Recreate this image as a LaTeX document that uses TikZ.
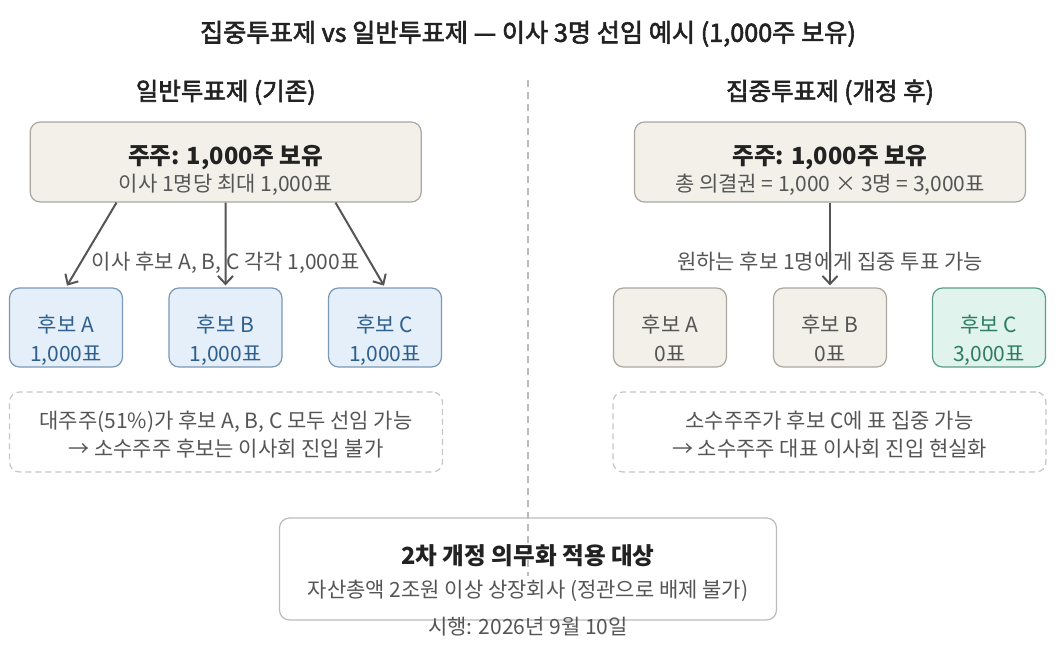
\documentclass[tikz,border=0pt]{standalone}
\usepackage{fontspec}
\setmainfont{Noto Sans CJK KR}
\newfontfamily\medfont{Noto Sans CJK KR}[FakeBold=2.4]
\usetikzlibrary{arrows.meta}
\definecolor{txtdark}{HTML}{222222}
\definecolor{txtmid}{HTML}{555555}
\definecolor{beigefill}{HTML}{F3F0EA}
\definecolor{beigeline}{HTML}{ABA79F}
\definecolor{bluefill}{HTML}{E4EFFA}
\definecolor{blueline}{HTML}{7B98B5}
\definecolor{bluetxt}{HTML}{2F5F8C}
\definecolor{greenfill}{HTML}{E1F3ED}
\definecolor{greenline}{HTML}{5A9E85}
\definecolor{greentxt}{HTML}{2E7D62}
\definecolor{dashline}{HTML}{C6C6C6}
\definecolor{divline}{HTML}{BBBBBB}
\begin{document}
\begin{tikzpicture}[x=1pt,y=-1pt,
  title/.style={anchor=base, inner sep=0pt, text=txtdark, font=\fontsize{24.5}{28}\medfont},
  head/.style={anchor=base, inner sep=0pt, text=txtdark, font=\fontsize{23.6}{27}\selectfont\bfseries},
  body/.style={anchor=base, inner sep=0pt, text=txtmid, font=\fontsize{21}{25}\selectfont},
  boxbase/.style={rounded corners=10pt, line width=1.2pt, inner sep=0pt},
  topbox/.style={boxbase, draw=beigeline, fill=beigefill, minimum width=391pt, minimum height=80pt},
  candbox/.style={boxbase, minimum width=113pt, minimum height=79pt},
  bluebox/.style={candbox, draw=blueline, fill=bluefill},
  beigebox/.style={candbox, draw=beigeline, fill=beigefill},
  greenbox/.style={candbox, draw=greenline, fill=greenfill},
  notebox/.style={boxbase, draw=dashline, dash pattern=on 6pt off 4pt, fill=white, minimum width=433pt, minimum height=80pt},
  finalbox/.style={boxbase, draw=divline, fill=white, minimum width=497pt, minimum height=102pt},
  arr/.style={draw=txtmid, line width=2pt, -{Straight Barb[length=8pt,width=15pt]}, shorten >=2pt},
  divider/.style={draw=divline, line width=1.5pt, dash pattern=on 7pt off 5pt}
]
\useasboundingbox (0,0) rectangle (1058,648);

% title and headings
\node[title, font=\fontsize{25.2}{29}\medfont] (ttl) at (528,41.8) {집중투표제 vs 일반투표제 — 이사 3명 선임 예시 (1,000주 보유)};
\node[title] (lhd) at (225.7,100.1) {일반투표제 (기존)};
\node[title] (rhd) at (830,100.1) {집중투표제 (개정 후)};

% bottom box first (divider passes over it)
\node[finalbox] (fin) at (528,569) {};

% divider
\coordinate (dv1) at (528,80);
\coordinate (dv2) at (528,576);
\draw[divider] (dv1) -- (dv2);

% left panel
\node[topbox] (ltop) at (225.7,162) {};
\node[head] (ltopa) at (225.7,164.3) {주주: 1,000주 보유};
\node[body] (ltopb) at (225.7,191.8) {이사 1명당 최대 1,000표};

\node[bluebox] (la) at (66,327.5) {};
\node[bluebox] (lb) at (225.5,327.5) {};
\node[bluebox] (lc) at (385,327.5) {};
\foreach \n/\x/\t in {la/66/A, lb/225.5/B, lc/385/C}{
  \node[body, text=bluetxt] (\n1) at (\x,332.3) {후보 \t};
  \node[body, text=bluetxt] (\n2) at (\x,361.3) {1,000표};
}
\draw[arr] ([xshift=-109.2pt]ltop.south) -- (la.north);
\draw[arr] (ltop.south) -- (lb.north);
\draw[arr] ([xshift=109.8pt]ltop.south) -- (lc.north);
\node[body] (llab) at (225.7,269.8) {이사 후보 A, B, C 각각 1,000표};

\node[notebox] (lnote) at (226,432) {};
\node[body] (lnotea) at (226,428.8) {대주주(51\%)가 후보 A, B, C 모두 선임 가능};
\node[body] (lnoteb) at (226,456.3) {→ 소수주주 후보는 이사회 진입 불가};

% right panel
\node[topbox] (rtop) at (830,162) {};
\node[head] (rtopa) at (830,164.3) {주주: 1,000주 보유};
\node[body] (rtopb) at (830,191.8) {총 의결권 = 1,000 × 3명 = 3,000표};

\node[beigebox] (ra) at (670,327.5) {};
\node[beigebox] (rb) at (830,327.5) {};
\node[greenbox] (rc) at (989,327.5) {};
\node[body] (ra1) at (670,332.3) {후보 A};
\node[body] (ra2) at (670,361.3) {0표};
\node[body] (rb1) at (830,332.3) {후보 B};
\node[body] (rb2) at (830,361.3) {0표};
\node[body, text=greentxt] (rc1) at (989,332.3) {후보 C};
\node[body, text=greentxt] (rc2) at (989,361.3) {3,000표};
\draw[arr] (rtop.south) -- (rb.north);
\node[body] (rlab) at (830,269.8) {원하는 후보 1명에게 집중 투표 가능};

\node[notebox] (rnote) at (829.5,432) {};
\node[body] (rnotea) at (829.5,428.8) {소수주주가 후보 C에 표 집중 가능};
\node[body] (rnoteb) at (829.5,456.3) {→ 소수주주 대표 이사회 진입 현실화};

% bottom text
\node[head] (fina) at (528,564.5) {2차 개정 의무화 적용 대상};
\node[body] (finb) at (528,597.8) {자산총액 2조원 이상 상장회사 (정관으로 배제 불가)};
\node[body] (finc) at (528,634.8) {시행: 2026년 9월 10일};
\end{tikzpicture}
\end{document}
